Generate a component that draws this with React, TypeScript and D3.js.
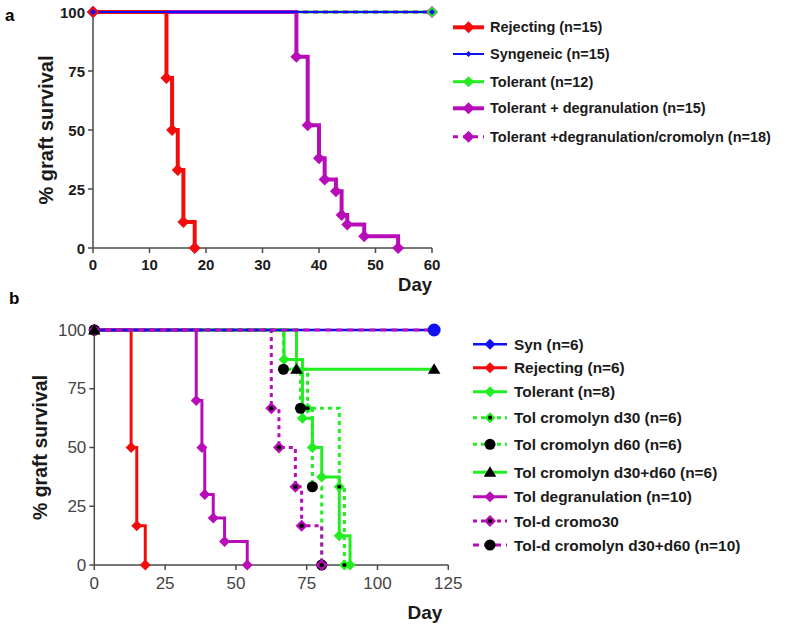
import React from 'react';
import * as d3 from 'd3';

// ---------- Panel a data ----------
const A_X_TICKS = [0, 10, 20, 30, 40, 50, 60];
const A_Y_TICKS = [0, 25, 50, 75, 100];
const A_REJ_DAYS = [0, 13, 14, 15, 16, 18];
const A_REJ_SURV = [100, 72, 50, 33, 11, 0];
const A_SYN_DAYS = [0, 60];
const A_SYN_SURV = [100, 100];
const A_TOL_DAYS = [0, 60];
const A_TOL_SURV = [100, 100];
const A_DEG_DAYS = [0, 36, 38, 40, 41, 43, 44, 45, 48, 54];
const A_DEG_SURV = [100, 81, 52, 38, 29, 24, 14, 10, 5, 0];
const A_CRO_DAYS = [0, 60];
const A_CRO_SURV = [100, 100];
const A_LABELS = [
  'Rejecting (n=15)',
  'Syngeneic (n=15)',
  'Tolerant (n=12)',
  'Tolerant + degranulation (n=15)',
  'Tolerant +degranulation/cromolyn (n=18)',
];

// ---------- Panel b data ----------
const B_X_TICKS = [0, 25, 50, 75, 100, 125];
const B_Y_TICKS = [0, 25, 50, 75, 100];
const B_SYN_DAYS = [0, 120];
const B_SYN_SURV = [100, 100];
const B_REJ_DAYS = [0, 13, 15, 18];
const B_REJ_SURV = [100, 50, 16.7, 0];
const B_TOL_DAYS = [0, 67, 73.5, 77, 80.3, 86.5, 90.3];
const B_TOL_SURV = [100, 87.5, 62.5, 50, 37.5, 12.5, 0];
const B_C30_DAYS = [0, 71.4, 75.3, 86.5, 88.3];
const B_C30_SURV = [100, 83.3, 66.7, 33.3, 0];
const B_C60_DAYS = [0, 66.8, 72.8, 77, 80.3];
const B_C60_SURV = [100, 83.3, 66.7, 33.3, 0];
const B_C3060_DAYS = [0, 71.4, 120];
const B_C3060_SURV = [100, 83.3, 83.3];
const B_DEG_DAYS = [0, 36, 38, 39, 42, 46, 54];
const B_DEG_SURV = [100, 70, 50, 30, 20, 10, 0];
const B_DC30_DAYS = [0, 62.5, 65.2, 71, 73.2, 80.3];
const B_DC30_SURV = [100, 66.7, 50, 33.3, 16.7, 0];
const B_DC3060_DAYS = [0, 120];
const B_DC3060_SURV = [100, 100];
const B_LABELS = [
  'Syn (n=6)',
  'Rejecting (n=6)',
  'Tolerant (n=8)',
  'Tol cromolyn d30 (n=6)',
  'Tol cromolyn d60 (n=6)',
  'Tol cromolyn d30+d60 (n=6)',
  'Tol degranulation (n=10)',
  'Tol-d cromo30',
  'Tol-d cromolyn d30+d60 (n=10)',
];

const RED = '#f20d0d';
const BLUE = '#1010f0';
const GREEN = '#22ee22';
const PURPLE = '#b80cb8';
const AXIS = '#4a4a4a';
const FONT = "'Liberation Sans', Arial, sans-serif";

type Marker = 'diamond' | 'diamondDot' | 'circle' | 'triangle' | 'smallDiamond' | 'none';
interface Series {
  days: number[];
  surv: number[];
  color: string;
  width: number;
  dash?: string;
  marker: Marker;
  mColor: string;
  mSize: number;
}

function drawMarker(m: Marker, x: number, y: number, color: string, r: number, key: string) {
  if (m === 'none') return null;
  if (m === 'diamond' || m === 'smallDiamond' || m === 'diamondDot') {
    const pts = `${x},${y - r} ${x + r},${y} ${x},${y + r} ${x - r},${y}`;
    return (
      <g key={key}>
        <polygon points={pts} fill={color} />
        {m === 'diamondDot' && <circle cx={x} cy={y} r={r * 0.38} fill="#000" />}
      </g>
    );
  }
  if (m === 'circle') return <circle key={key} cx={x} cy={y} r={r} fill={color} />;
  if (m === 'triangle') {
    const pts = `${x},${y - r} ${x + r * 1.05},${y + r * 0.75} ${x - r * 1.05},${y + r * 0.75}`;
    return <polygon key={key} points={pts} fill={color} />;
  }
  return null;
}

function Panel(props: {
  series: Series[];
  order: number[];
  markerOrder: number[];
  x: d3.ScaleLinear<number, number>;
  y: d3.ScaleLinear<number, number>;
  xTicks: number[];
  yTicks: number[];
  tickFont: number;
  tickWeight: string;
  tickColor: string;
  xLabelOffset: number;
}) {
  const { series, order, markerOrder, x, y, xTicks, yTicks } = props;
  const line = d3
    .line<[number, number]>()
    .x((d) => x(d[0]))
    .y((d) => y(d[1]))
    .curve(d3.curveStepAfter);
  const [x0, x1] = x.range();
  const [y0, y1] = y.range();
  return (
    <g>
      <line x1={x0} x2={x1} y1={y0} y2={y0} stroke={AXIS} strokeWidth={1.5} />
      <line x1={x0} x2={x0} y1={y0} y2={y1} stroke={AXIS} strokeWidth={1.5} />
      {xTicks.map((t) => (
        <g key={'xt' + t}>
          <line x1={x(t)} x2={x(t)} y1={y0} y2={y0 + 5} stroke={AXIS} strokeWidth={1.5} />
          <text
            x={x(t)}
            y={y0 + props.xLabelOffset}
            textAnchor="middle"
            dominantBaseline="central"
            fontFamily={FONT}
            fontSize={props.tickFont}
            fontWeight={props.tickWeight}
            fill={props.tickColor}
          >
            {t}
          </text>
        </g>
      ))}
      {yTicks.map((t) => (
        <g key={'yt' + t}>
          <line x1={x0 - 5} x2={x0} y1={y(t)} y2={y(t)} stroke={AXIS} strokeWidth={1.5} />
          <text
            x={x0 - 8}
            y={y(t)}
            textAnchor="end"
            dominantBaseline="central"
            fontFamily={FONT}
            fontSize={props.tickFont}
            fontWeight={props.tickWeight}
            fill={props.tickColor}
          >
            {t}
          </text>
        </g>
      ))}
      {order.map((i) => {
        const s = series[i];
        const pts = s.days.map((d, j) => [d, s.surv[j]] as [number, number]);
        return (
          <path
            key={'l' + i}
            d={line(pts) || ''}
            fill="none"
            stroke={s.color}
            strokeWidth={s.width}
            strokeDasharray={s.dash}
          />
        );
      })}
      {markerOrder.map((i) => {
        const s = series[i];
        return (
          <g key={'m' + i}>
            {s.days.map((d, j) => drawMarker(s.marker, x(d), y(s.surv[j]), s.mColor, s.mSize, `${i}-${j}`))}
          </g>
        );
      })}
    </g>
  );
}

function Legend(props: {
  series: Series[];
  labels: string[];
  rows: number[];
  lx0: number;
  lx1: number;
  tx: number;
  fontSize: number;
}) {
  const { series, labels, rows, lx0, lx1, tx } = props;
  const mx = (lx0 + lx1) / 2;
  return (
    <g>
      {series.map((s, i) => (
        <g key={'lg' + i}>
          <line
            x1={lx0}
            x2={lx1}
            y1={rows[i]}
            y2={rows[i]}
            stroke={s.color}
            strokeWidth={s.width}
            strokeDasharray={s.dash}
          />
          {drawMarker(s.marker, mx, rows[i], s.mColor, s.mSize, 'lm' + i)}
          <text
            x={tx}
            y={rows[i]}
            dominantBaseline="central"
            fontFamily={FONT}
            fontSize={props.fontSize}
            fontWeight="bold"
            fill="#1a1a1a"
          >
            {labels[i]}
          </text>
        </g>
      ))}
    </g>
  );
}

export default function App() {
  // Panel a
  const xa = d3.scaleLinear().domain([0, 60]).range([93, 432]);
  const ya = d3.scaleLinear().domain([0, 100]).range([248, 12]);
  const seriesA: Series[] = [
    { days: A_REJ_DAYS, surv: A_REJ_SURV, color: RED, width: 4, marker: 'diamond', mColor: RED, mSize: 6 },
    { days: A_SYN_DAYS, surv: A_SYN_SURV, color: BLUE, width: 2, marker: 'smallDiamond', mColor: BLUE, mSize: 3 },
    { days: A_TOL_DAYS, surv: A_TOL_SURV, color: GREEN, width: 3, marker: 'diamond', mColor: GREEN, mSize: 5.5 },
    { days: A_DEG_DAYS, surv: A_DEG_SURV, color: PURPLE, width: 4, marker: 'diamond', mColor: PURPLE, mSize: 6 },
    { days: A_CRO_DAYS, surv: A_CRO_SURV, color: PURPLE, width: 3, dash: '5,5', marker: 'diamond', mColor: PURPLE, mSize: 6 },
  ];
  const orderA = [2, 4, 3, 0, 1];
  const markerOrderA = [4, 3, 2, 0, 1];

  // Panel b
  const xb = d3.scaleLinear().domain([0, 125]).range([94.3, 448.3]);
  const yb = d3.scaleLinear().domain([0, 100]).range([565, 330]);
  const seriesB: Series[] = [
    { days: B_SYN_DAYS, surv: B_SYN_SURV, color: BLUE, width: 2.5, marker: 'diamond', mColor: BLUE, mSize: 5.5 },
    { days: B_REJ_DAYS, surv: B_REJ_SURV, color: RED, width: 3, marker: 'diamond', mColor: RED, mSize: 5.5 },
    { days: B_TOL_DAYS, surv: B_TOL_SURV, color: GREEN, width: 3, marker: 'diamond', mColor: GREEN, mSize: 5.5 },
    { days: B_C30_DAYS, surv: B_C30_SURV, color: GREEN, width: 3, dash: '4,4', marker: 'diamondDot', mColor: GREEN, mSize: 5.5 },
    { days: B_C60_DAYS, surv: B_C60_SURV, color: GREEN, width: 3, dash: '4,4', marker: 'circle', mColor: '#000', mSize: 5.5 },
    { days: B_C3060_DAYS, surv: B_C3060_SURV, color: GREEN, width: 3, marker: 'triangle', mColor: '#000', mSize: 6 },
    { days: B_DEG_DAYS, surv: B_DEG_SURV, color: PURPLE, width: 3, marker: 'diamond', mColor: PURPLE, mSize: 5.5 },
    { days: B_DC30_DAYS, surv: B_DC30_SURV, color: PURPLE, width: 3, dash: '4,4', marker: 'diamondDot', mColor: PURPLE, mSize: 6 },
    { days: B_DC3060_DAYS, surv: B_DC3060_SURV, color: PURPLE, width: 3, dash: '6,5', marker: 'circle', mColor: '#000', mSize: 5.5 },
  ];
  const orderB = [2, 3, 4, 5, 1, 6, 7, 0, 8];
  const markerOrderB = [0, 1, 2, 3, 4, 6, 8, 7, 5];

  const syn = seriesB[0];
  const synEnd = syn.days.length - 1;

  return (
    <svg
      width={800}
      height={626}
      style={{ position: 'absolute', left: 0, top: 0, background: '#fff' }}
    >
      <rect x={0} y={0} width={800} height={626} fill="#fff" />
      {/* Panel a */}
      <text x={5} y={21} fontFamily={FONT} fontSize={17} fontWeight="bold">a</text>
      <Panel
        series={seriesA}
        order={orderA}
        markerOrder={markerOrderA}
        x={xa}
        y={ya}
        xTicks={A_X_TICKS}
        yTicks={A_Y_TICKS}
        tickFont={15}
        tickWeight="bold"
        tickColor="#1a1a1a"
        xLabelOffset={16}
      />
      <text
        transform={`translate(53,${(ya(0) + ya(100)) / 2}) rotate(-90)`}
        textAnchor="middle"
        fontFamily={FONT}
        fontSize={20}
        fontWeight="bold"
        fill="#1a1a1a"
      >
        % graft survival
      </text>
      <text x={415} y={291} textAnchor="middle" fontFamily={FONT} fontSize={18.5} fontWeight="bold" fill="#1a1a1a">
        Day
      </text>
      <Legend
        series={seriesA}
        labels={A_LABELS}
        rows={[27.3, 54, 81.7, 108.3, 136.7]}
        lx0={453}
        lx1={484}
        tx={490}
        fontSize={14.5}
      />

      {/* Panel b */}
      <text x={9} y={304} fontFamily={FONT} fontSize={17} fontWeight="bold">b</text>
      <Panel
        series={seriesB}
        order={orderB}
        markerOrder={markerOrderB}
        x={xb}
        y={yb}
        xTicks={B_X_TICKS}
        yTicks={B_Y_TICKS}
        tickFont={17}
        tickWeight="normal"
        tickColor="#444"
        xLabelOffset={18}
      />
      {/* end-of-follow-up marker of Syn group drawn as a blue circle */}
      <circle cx={xb(syn.days[synEnd])} cy={yb(syn.surv[synEnd])} r={6.5} fill={BLUE} />
      <text
        transform={`translate(47,${(yb(0) + yb(100)) / 2}) rotate(-90)`}
        textAnchor="middle"
        fontFamily={FONT}
        fontSize={19.5}
        fontWeight="bold"
        fill="#1a1a1a"
      >
        % graft survival
      </text>
      <text x={425} y={619} textAnchor="middle" fontFamily={FONT} fontSize={19} fontWeight="bold" fill="#1a1a1a">
        Day
      </text>
      <Legend
        series={seriesB}
        labels={B_LABELS}
        rows={[344.3, 367.7, 391.7, 417.7, 444.3, 472.3, 496.7, 521, 545]}
        lx0={473}
        lx1={507}
        tx={514}
        fontSize={15.4}
      />
    </svg>
  );
}
